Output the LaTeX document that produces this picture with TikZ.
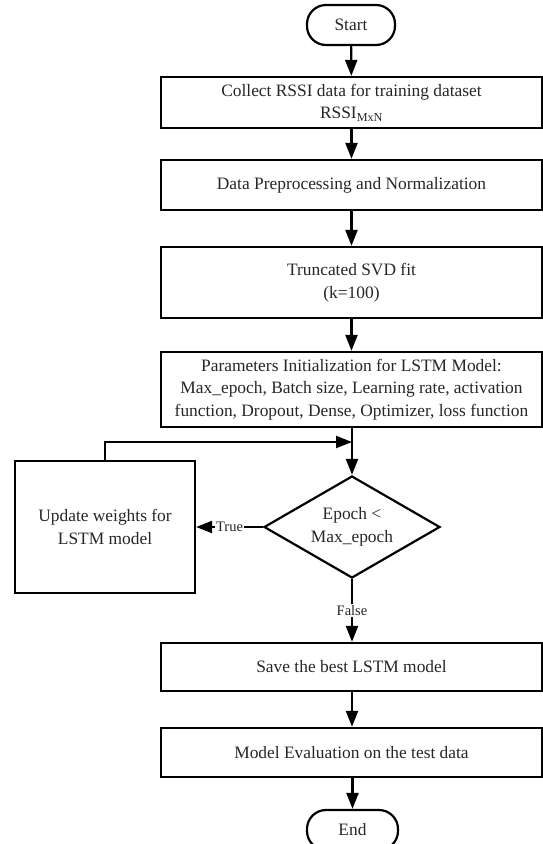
\documentclass[tikz,border=0pt]{standalone}
\usepackage{fontspec}
\setmainfont{Liberation Serif}
\usetikzlibrary{arrows.meta,shapes.geometric}
\begin{document}
\begin{tikzpicture}[x=1pt,y=-1pt,
  line width=2.2pt,
  txt/.style={text=black!85,font=\fontsize{17.4}{22.5}\selectfont},
  box/.style={draw,txt,minimum width=381pt,align=center,inner sep=0pt},
  term/.style={draw,txt,rounded corners=19pt,minimum width=88pt,minimum height=40pt,inner sep=0pt},
  dec/.style={draw,txt,diamond,aspect=1.73,minimum width=176pt,minimum height=102pt,inner sep=0pt,align=center},
  arr/.style={-{Triangle[length=16pt,width=12pt]}},
  lbl/.style={fill=white,text=black!85,font=\fontsize{14.5}{16}\selectfont,inner sep=1pt}
]
\useasboundingbox (0,0) rectangle (543,844);
\node[term] (start) at (351,25) {Start};
\node[box,minimum height=51pt] (b1) at (351.5,102.5) {Collect RSSI data for training dataset\\RSSI\textsubscript{MxN}};
\node[box,minimum height=50pt] (b2) at (351.5,185) {Data Preprocessing and Normalization};
\node[box,minimum height=71pt] (b3) at (351.5,282.5) {Truncated SVD fit\\(k=100)};
\node[box,minimum height=75pt] (b4) at (351.5,389.5) {Parameters Initialization for LSTM Model:\\Max\_epoch, Batch size, Learning rate, activation\\function, Dropout, Dense, Optimizer, loss function};
\node[dec] (d) at (352,527) {Epoch <\\Max\_epoch};
\node[draw,txt,minimum width=180pt,minimum height=132pt,align=center,inner sep=0pt] (upd) at (105,527) {Update weights for\\LSTM model};
\node[box,minimum height=48pt] (b5) at (351.5,667) {Save the best LSTM model};
\node[box,minimum height=49pt] (b6) at (351.5,752.5) {Model Evaluation on the test data};
\node[term,minimum width=91pt] (end) at (352.5,830) {End};
\coordinate (loop) at (352,442);
\draw[arr] (start) -- (b1);
\draw[arr] (b1) -- (b2);
\draw[arr] (b2) -- (b3);
\draw[arr] (b3) -- (b4);
\draw[arr] (b4.south -| d.north) -- (d.north);
\draw[arr] (upd.north) |- (loop);
\draw[arr] (d.west) -- node[lbl,pos=0.5]{True} (upd.east);
\draw[arr] (d.south) -- node[lbl,pos=0.5]{False} (b5.north -| d.south);
\draw[arr] (b5.south -| d.south) -- (b6.north -| d.south);
\draw[arr] (b6.south -| end.north) -- (end.north);
\end{tikzpicture}
\end{document}
